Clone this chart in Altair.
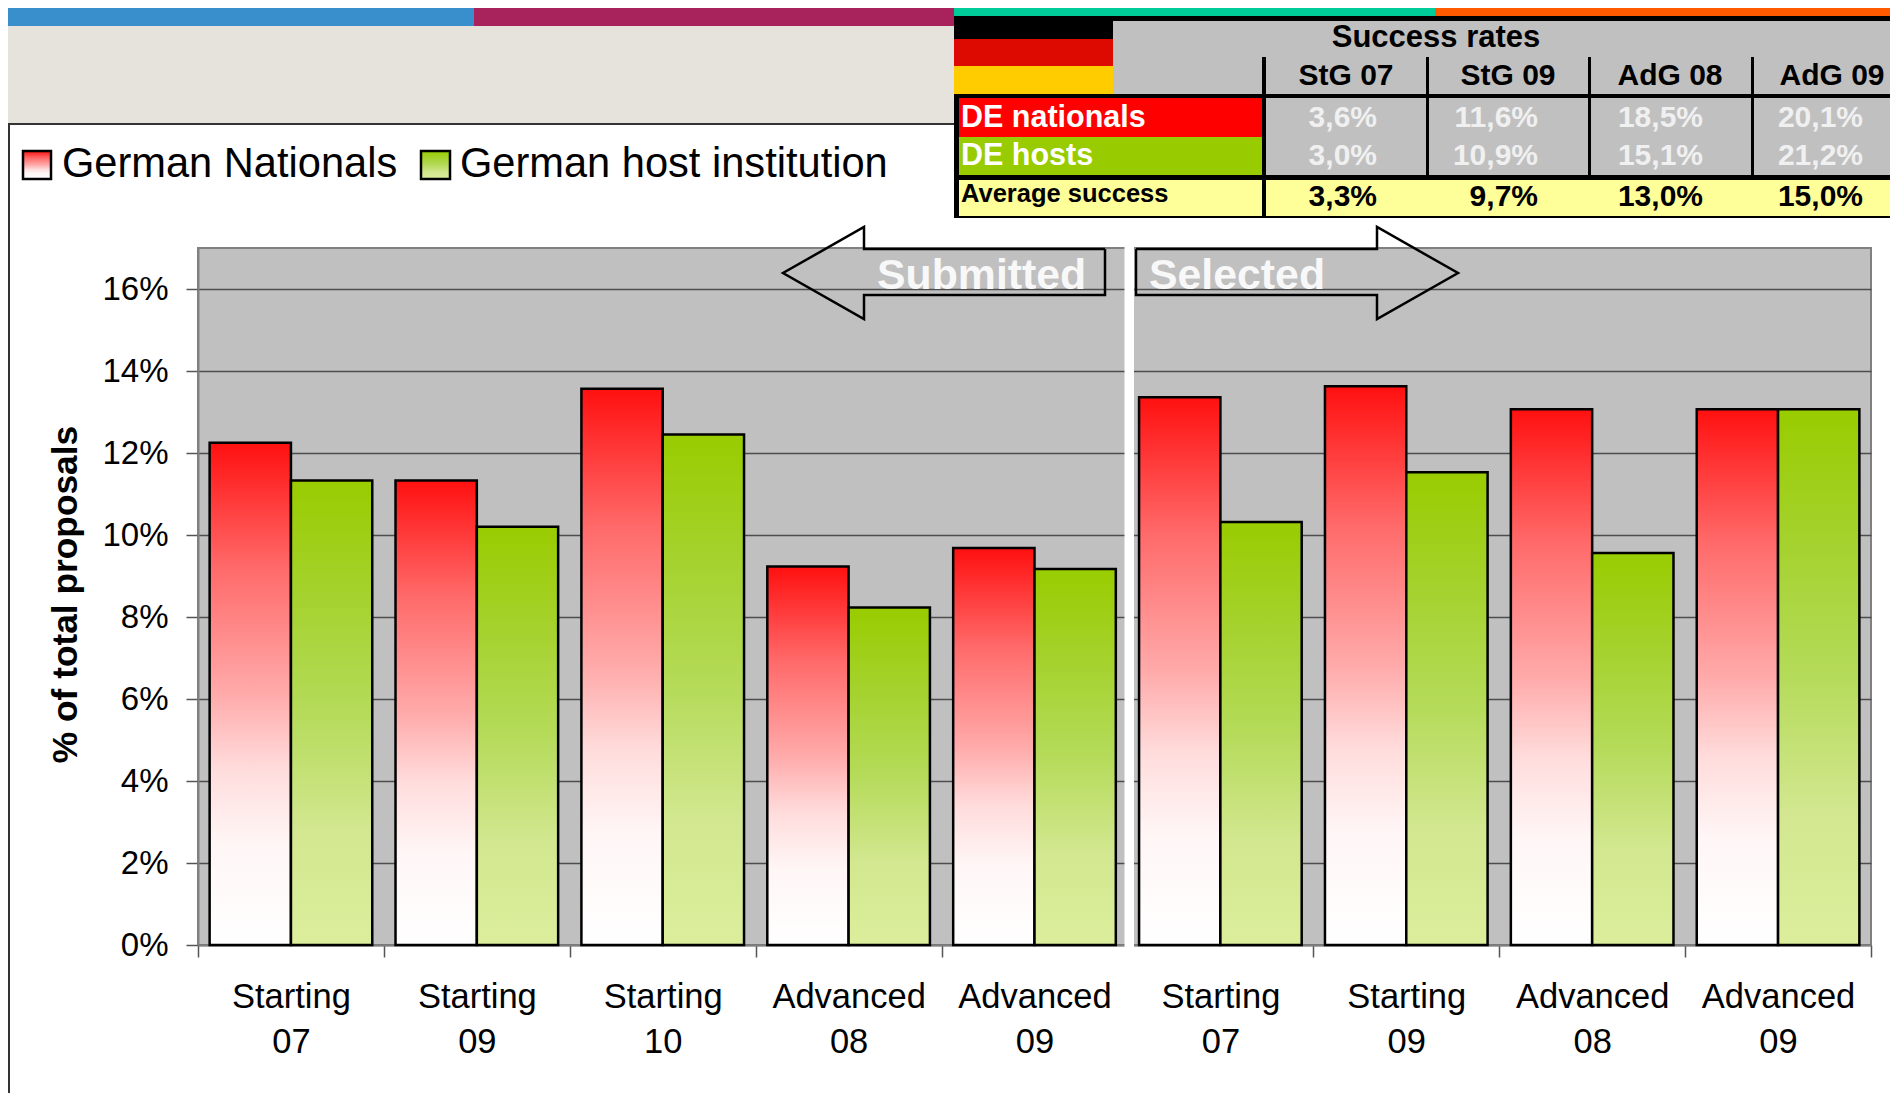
import altair as alt
import pandas as pd

# ---- chart values
categories = ["Starting|07", "Starting|09", "Starting|10", "Advanced|08", "Advanced|09",
              "Starting|07 ", "Starting|09 ", "Advanced|08 ", "Advanced|09 "]
nationals = [12.25, 11.33, 13.57, 9.23, 9.68, 13.36, 13.63, 13.07, 13.07]
hosts = [11.33, 10.2, 12.45, 8.23, 9.17, 10.32, 11.53, 9.56, 13.07]
series_names = ["German Nationals", "German host institution"]
table_cols = ["StG 07", "StG 09", "AdG 08", "AdG 09"]
row_nat = ["3,6%", "11,6%", "18,5%", "20,1%"]
row_host = ["3,0%", "10,9%", "15,1%", "21,2%"]
row_avg = ["3,3%", "9,7%", "13,0%", "15,0%"]

# ---- layout (page pixels)
OX, OY = 198.0, 248.0
PW, PH = 1673.0, 697.0
W, H = 1882, 1085
FONT = "Liberation Sans"


def px(x):
    return x - OX


def py(y):
    return y - OY


RED = {"gradient": "linear", "x1": 0, "y1": 0, "x2": 0, "y2": 1,
       "stops": [{"offset": 0, "color": "#ff1010"}, {"offset": 0.25, "color": "#ff6a6a"},
                 {"offset": 0.5, "color": "#ffaaaa"}, {"offset": 0.65, "color": "#ffdcdc"},
                 {"offset": 0.8, "color": "#fff6f6"}, {"offset": 1, "color": "#ffffff"}]}
GREEN = {"gradient": "linear", "x1": 0, "y1": 0, "x2": 0, "y2": 1,
         "stops": [{"offset": 0, "color": "#99cc00"}, {"offset": 0.25, "color": "#a5d22e"},
                   {"offset": 0.5, "color": "#b5db5a"}, {"offset": 0.75, "color": "#d2e78f"},
                   {"offset": 1, "color": "#dcee9c"}]}

# ---- decoration rectangles: x0, x1, y0, y1, colour
rects = [
    (0, 474, 7, 26, "#388fcb"), (474, 954, 7, 26, "#a8235b"),
    (954, 1435, 7, 16, "#00cc99"), (1435, 1898, 7, 16, "#ff5a00"),
    (0, 954, 26, 124, "#e6e3dc"),
    (954, 1898, 16, 21, "#000000"),
    (1113, 1898, 21, 95, "#c0c0c0"),
    (954, 1113, 16, 39, "#000000"), (954, 1113, 39, 66, "#dc0a00"), (954, 1113, 66, 94, "#ffcc00"),
    (954, 1898, 94, 98, "#000000"),
    (954, 959, 94, 218, "#000000"),
    (959, 1262, 98, 137, "#ff0000"), (959, 1262, 137, 175, "#99cc00"),
    (1262, 1898, 98, 175, "#c0c0c0"),
    (954, 1898, 175, 180, "#000000"),
    (959, 1898, 180, 216, "#ffff99"),
    (954, 1898, 216, 218, "#000000"),
    (1262, 1266, 57, 218, "#000000"),
    (1426, 1429, 57, 175, "#000000"), (1588, 1591, 57, 175, "#000000"), (1751, 1754, 57, 175, "#000000"),
    # chart frame
    (8, 954, 123, 125, "#333333"), (8, 10, 124, 1093, "#333333"),
    # white divider between the two panels
    (1124.5, 1134, 247, 958, "#ffffff"),
]
rect_df = pd.DataFrame(
    [{"x": px(a), "x2": px(b), "y": py(c), "y2": py(d), "c": e} for a, b, c, d, e in rects])

# ---- decoration texts: x, baseline y, text, size, colour
col_x = [1346, 1508, 1670, 1832]
val_x = [1377, 1538, 1703, 1863]
bold_center = [(1436, 47, "Success rates", 31, "#000000")]
bold_center += [(x, 85, t, 30, "#000000") for x, t in zip(col_x, table_cols)]
bold_left = [
    (961, 127, "DE nationals", 30.5, "#ffffff"), (961, 165, "DE hosts", 30.5, "#ffffff"),
    (961, 202, "Average success", 25.5, "#000000"),
    (877, 289, "Submitted", 42.8, "#f8f8f8"), (1149, 289, "Selected", 42.8, "#f8f8f8"),
]
bold_right = [(x, 127, t, 30, "#f0f0f0") for x, t in zip(val_x, row_nat)]
bold_right += [(x, 165, t, 30, "#f0f0f0") for x, t in zip(val_x, row_host)]
bold_right += [(x, 206, t, 30, "#000000") for x, t in zip(val_x, row_avg)]


def text_layer(items, align, weight="bold"):
    df = pd.DataFrame([{"x": px(a), "y": py(b), "t": t, "s": s, "c": c} for a, b, t, s, c in items])
    return alt.Chart(df).mark_text(align=align, baseline="alphabetic", font=FONT, fontWeight=weight).encode(
        x=alt.X("x:Q", scale=None),
        y=alt.Y("y:Q", scale=None),
        text="t:N",
        size=alt.Size("s:Q", scale=None, legend=None),
        color=alt.Color("c:N", scale=None, legend=None),
    )


# ---- arrows
arrows = {
    "sub": [(1105, 249), (864, 249), (864, 227), (783, 273), (864, 319), (864, 295), (1105, 295), (1105, 249)],
    "sel": [(1136, 249), (1377, 249), (1377, 227), (1458, 273), (1377, 319), (1377, 295), (1136, 295), (1136, 249)],
}
arrow_df = pd.DataFrame([{"a": k, "i": i, "x": px(x), "y": py(y)}
                         for k, pts in arrows.items() for i, (x, y) in enumerate(pts)])

# ---- bars
bar_df = pd.DataFrame({"cat": categories, "nat": nationals, "host": hosts})
x_scale = alt.Scale(domain=categories, padding=0)
off_scale = alt.Scale(domain=series_names, paddingInner=0, paddingOuter=0.143)

x_axis = alt.Axis(title=None, labelExpr="split(trim(datum.label),'|')", labelAngle=0,
                  labelFont=FONT, labelFontSize=34.5, labelColor="#000000", labelLineHeight=45,
                  labelPadding=23, labelOverlap=False, labelLimit=0, labelBaseline="top",
                  tickBand="extent", tickSize=12, tickColor="#555555", tickWidth=1.5,
                  domainColor="#808080", domainWidth=2, grid=False)
y_axis = alt.Axis(title="% of total proposals", values=list(range(0, 17, 2)),
                  labelExpr="datum.value + '%'", labelFont=FONT, labelFontSize=33,
                  labelColor="#000000", labelPadding=18, tickSize=12, tickColor="#555555", tickWidth=1.5,
                  domainColor="#808080", domainWidth=2, grid=True, gridColor="#4d4d4d", gridWidth=1.5,
                  titleFont=FONT, titleFontSize=35.3, titleFontWeight="bold", titleColor="#000000",
                  titleX=-133, titleY=346, titleBaseline="middle")
y_scale = alt.Scale(domain=[0, 17], nice=False)

nat_bars = alt.Chart(bar_df).transform_calculate(s="'German Nationals'").mark_bar(
    fill=RED, stroke="#000000", strokeWidth=2.5).encode(
    x=alt.X("cat:N", scale=x_scale, axis=x_axis, sort=categories),
    xOffset=alt.XOffset("s:N", scale=off_scale),
    y=alt.Y("nat:Q", scale=y_scale, axis=y_axis),
)
host_bars = alt.Chart(bar_df).transform_calculate(s="'German host institution'").mark_bar(
    fill=GREEN, stroke="#000000", strokeWidth=2.5).encode(
    x=alt.X("cat:N", scale=x_scale, axis=x_axis, sort=categories),
    xOffset=alt.XOffset("s:N", scale=off_scale),
    y=alt.Y("host:Q", scale=y_scale, axis=y_axis),
)

rect_layer = alt.Chart(rect_df).mark_rect().encode(
    x=alt.X("x:Q", scale=None), x2="x2:Q",
    y=alt.Y("y:Q", scale=None), y2="y2:Q",
    color=alt.Color("c:N", scale=None, legend=None),
)
arrow_layer = alt.Chart(arrow_df).mark_line(stroke="#000000", strokeWidth=2.5, strokeJoin="miter").encode(
    x=alt.X("x:Q", scale=None),
    y=alt.Y("y:Q", scale=None),
    detail="a:N", order="i:Q",
)


def swatch(x0, x1, fill):
    return alt.Chart(pd.DataFrame({"k": [0]})).mark_rect(fill=fill, stroke="#000000", strokeWidth=2.5).encode(
        x=alt.value(px(x0)), x2=alt.value(px(x1)), y=alt.value(py(151)), y2=alt.value(py(179)))


legend_text = text_layer([(62, 177, series_names[0], 41.6, "#000000"),
                          (460, 177, series_names[1], 41.6, "#000000")], "left", "normal")

chart = alt.layer(
    rect_layer, nat_bars, host_bars, arrow_layer,
    swatch(23, 51, RED), swatch(421, 450, GREEN), legend_text,
    text_layer(bold_center, "center"), text_layer(bold_left, "left"), text_layer(bold_right, "right"),
).properties(
    width=PW, height=PH,
    padding={"left": OX - 8, "top": OY - 8, "right": W - (OX - 8) - PW, "bottom": H - (OY - 8) - PH},
    autosize=alt.AutoSizeParams(type="none"),
    background="#ffffff",
).configure_view(fill="#c0c0c0", stroke="#808080", strokeWidth=2)

chart.save("out.html", embed_options={"renderer": "svg", "actions": False})
